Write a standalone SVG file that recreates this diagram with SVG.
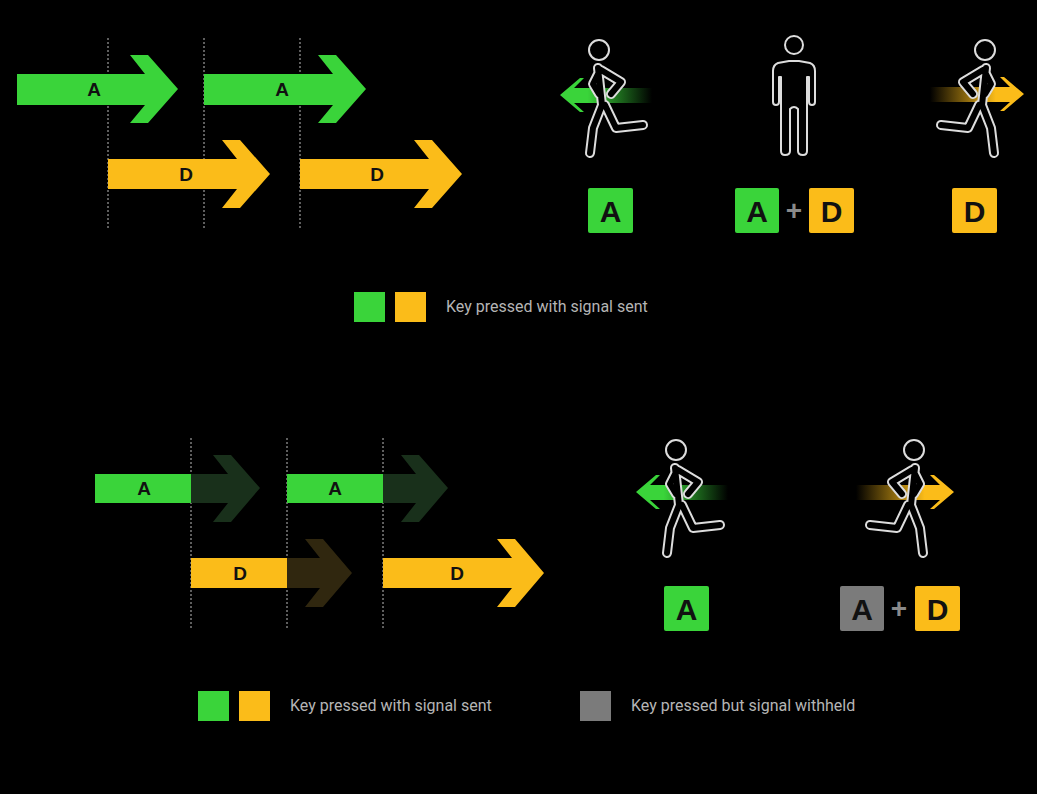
<svg xmlns="http://www.w3.org/2000/svg" width="1037" height="794" viewBox="0 0 1037 794">
<style>
.g{fill:#3ad43a}.y{fill:#fbbc19}.dg{fill:#19301b}.dy{fill:#30270f}.gr{fill:#7b7b7b}
.lbl{font-family:"Liberation Sans",sans-serif;font-weight:bold;font-size:19px;fill:#111;text-anchor:middle}
.key{font-family:"Liberation Sans",sans-serif;font-weight:bold;font-size:30px;fill:#111;text-anchor:middle}
.plus{font-family:"Liberation Sans",sans-serif;font-weight:bold;font-size:28px;fill:#8a8a8a;text-anchor:middle}
.leg{font-family:"Roboto","Liberation Sans",sans-serif;font-size:16px;fill:#b5b5b5}
.dot{stroke:#bbb;stroke-width:1;stroke-dasharray:2 2}
.o1{fill:none;stroke:#ddd;stroke-width:10;stroke-linecap:round;stroke-linejoin:round}
.o2{fill:none;stroke:#000;stroke-width:6;stroke-linecap:round;stroke-linejoin:round}
</style>
<defs>
<g id="rp"><path d="M-1,18 L3,55 M2,20 L22,32 L12,44 M0,22 L-6,34 L0,44 M3,55 L-6,78 L-9,103 M6,55 L17,78 L44,75"/></g>
<g id="runner">
<use href="#rp" class="o1"/><use href="#rp" class="o2"/>
<circle r="10" fill="none" stroke="#ddd" stroke-width="2"/>
</g>
<linearGradient id="gl" x1="0" x2="1"><stop offset="0.3" stop-color="#3ad43a"/><stop offset="1" stop-color="#3ad43a" stop-opacity="0"/></linearGradient>
<linearGradient id="yr" x1="0" x2="1"><stop offset="0" stop-color="#fbbc19" stop-opacity="0"/><stop offset="0.7" stop-color="#fbbc19"/></linearGradient>
</defs>
<rect width="1037" height="794" fill="#000"/>

<g id="guides">
<line class="dot" x1="108" y1="38" x2="108" y2="228"/><line class="dot" x1="204" y1="38" x2="204" y2="228"/><line class="dot" x1="300" y1="38" x2="300" y2="228"/>
<line class="dot" x1="191" y1="438" x2="191" y2="628"/><line class="dot" x1="287" y1="438" x2="287" y2="628"/><line class="dot" x1="383" y1="438" x2="383" y2="628"/>
</g>

<g id="top-arrows">
<polygon class="g" points="17,74 145,74 130,55 148,55 178,89 148,123 130,123 145,105 17,105"/>
<text class="lbl" x="94" y="96">A</text>
<polygon class="g" points="204,74 333,74 318,55 336,55 366,89 336,123 318,123 333,105 204,105"/>
<text class="lbl" x="282" y="96">A</text>
<polygon class="y" points="108,159 237,159 222,140 240,140 270,174 240,208 222,208 237,189 108,189"/>
<text class="lbl" x="186" y="181">D</text>
<polygon class="y" points="300,159 429,159 414,140 432,140 462,174 432,208 414,208 429,189 300,189"/>
<text class="lbl" x="377" y="181">D</text>
</g>

<g id="bottom-arrows">
<polygon class="dg" points="191,474 228,474 213,455 231,455 260,488 231,522 213,522 228,503 191,503"/>
<rect class="g" x="95" y="474" width="96" height="29"/>
<text class="lbl" x="144" y="495">A</text>
<polygon class="dg" points="383,474 416,474 401,455 419,455 448,488 419,522 401,522 416,503 383,503"/>
<rect class="g" x="287" y="474" width="96" height="29"/>
<text class="lbl" x="335" y="495">A</text>
<polygon class="dy" points="287,558 320,558 305,539 323,539 352,573 323,607 305,607 320,588 287,588"/>
<rect class="y" x="191" y="558" width="96" height="30"/>
<text class="lbl" x="240" y="580">D</text>
<polygon class="y" points="383,558 512,558 497,539 515,539 544,573 515,607 497,607 512,588 383,588"/>
<text class="lbl" x="457" y="580">D</text>
</g>

<g id="fig-left-top">
<polygon fill="url(#gl)" points="560,95 580,78 584,78 574,88 652,88 652,103 574,103 584,112 580,112"/>
<use href="#runner" transform="translate(599,50)"/>
</g>
<g id="fig-stand">
<circle cx="794" cy="45" r="9" fill="none" stroke="#ddd" stroke-width="2"/>
<path fill="none" stroke="#ddd" stroke-width="2" stroke-linejoin="round" transform="translate(794,45)" d="M-5,16 L-16,18 Q-21,20 -21,26 L-21,57 Q-21,60 -18,60 Q-15,60 -15,57 L-15,32 L-13,32 L-13,106 Q-13,110 -9,110 Q-4,110 -4,106 L-4,64 Q0,60 4,64 L4,106 Q4,110 9,110 Q13,110 13,106 L13,32 L15,32 L15,57 Q15,60 18,60 Q21,60 21,57 L21,26 Q21,20 16,18 L5,16 Z"/>
</g>
<g id="fig-right-top">
<polygon fill="url(#yr)" points="1024,94 1004,77 1000,77 1010,87 930,87 930,102 1010,102 1000,111 1004,111"/>
<use href="#runner" transform="translate(985,50) scale(-1,1)"/>
</g>
<g id="fig-left-bottom">
<polygon fill="url(#gl)" points="636,492 656,475 660,475 650,485 728,485 728,500 650,500 660,509 656,509"/>
<use href="#runner" transform="translate(676,450)"/>
</g>
<g id="fig-right-bottom">
<polygon fill="url(#yr)" points="954,492 934,475 930,475 940,485 856,485 856,500 940,500 930,509 934,509"/>
<use href="#runner" transform="translate(914,450) scale(-1,1)"/>
</g>

<g id="keys-top">
<rect class="g" x="588" y="188" width="45" height="45" rx="2"/><text class="key" x="610.5" y="222">A</text>
<rect class="g" x="735" y="188" width="44" height="45" rx="2"/><text class="key" x="757" y="222">A</text>
<text class="plus" x="794" y="220">+</text>
<rect class="y" x="809" y="188" width="45" height="45" rx="2"/><text class="key" x="831.5" y="222">D</text>
<rect class="y" x="952" y="188" width="45" height="45" rx="2"/><text class="key" x="974.5" y="222">D</text>
</g>
<g id="keys-bottom">
<rect class="g" x="664" y="586" width="45" height="45" rx="2"/><text class="key" x="686.5" y="620">A</text>
<rect class="gr" x="840" y="586" width="44" height="45" rx="2"/><text class="key" x="862" y="620">A</text>
<text class="plus" x="899" y="618">+</text>
<rect class="y" x="915" y="586" width="45" height="45" rx="2"/><text class="key" x="937.5" y="620">D</text>
</g>

<g id="legend-top">
<rect class="g" x="354" y="292" width="31" height="30"/><rect class="y" x="395" y="292" width="31" height="30"/>
<text class="leg" x="446" y="312">Key pressed with signal sent</text>
</g>
<g id="legend-bottom">
<rect class="g" x="198" y="691" width="31" height="30"/><rect class="y" x="239" y="691" width="31" height="30"/>
<text class="leg" x="290" y="711">Key pressed with signal sent</text>
<rect class="gr" x="580" y="691" width="31" height="30"/>
<text class="leg" x="631" y="711">Key pressed but signal withheld</text>
</g>
</svg>
